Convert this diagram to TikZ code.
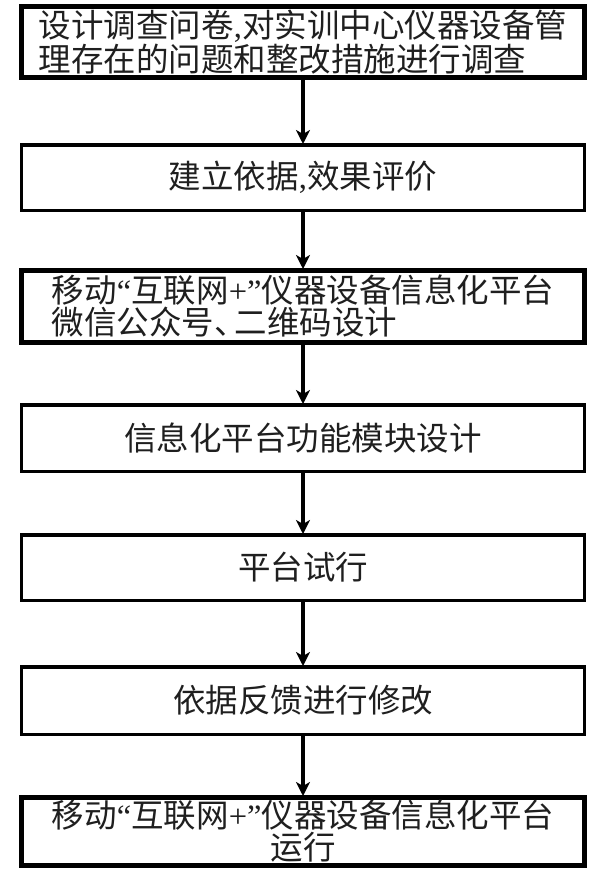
\documentclass[tikz,border=0pt]{standalone}
\usepackage{fontspec}
\setmainfont{Noto Sans CJK SC}
\newfontfamily\latfont{Liberation Serif}
\usetikzlibrary{arrows.meta}
\tikzset{
  stepbox/.style={draw=black, line width=3.5pt, rectangle, inner sep=0pt,
    minimum width=563pt, font=\fontsize{32.5}{32}\selectfont, text=black!88},
  heavybox/.style={stepbox, line width=5pt},
  flowarrow/.style={draw=black, line width=3.5pt,
    -{Stealth[length=14pt,width=14pt,inset=4pt]}, shorten >=-1pt}
}
\newcommand{\myLq}{{\latfont “}}
\newcommand{\myRq}{{\latfont ”}}
\begin{document}
\begin{tikzpicture}[x=1pt,y=-1pt]
\useasboundingbox[fill=white] (0,0) rectangle (609,878);
\node[heavybox, minimum height=71pt, align=left] (b1) at (303,42)
  {设计调查问卷{\latfont ,}对实训中心仪器设备管\\理存在的问题和整改措施进行调查};
\node[stepbox, minimum height=65.5pt] (b2) at (303,177.5)
  {建立依据{\latfont ,}效果评价};
\node[heavybox, minimum height=72pt, align=left] (b3) at (303,306.5)
  {移动\myLq 互联网{\latfont +}\myRq 仪器设备信息化平台\\微信公众号、\kern-12pt 二维码设计};
\node[stepbox, minimum height=66.5pt] (b4) at (303,438)
  {信息化平台功能模块设计};
\node[stepbox, minimum height=65.5pt] (b5) at (303,567.5)
  {平台试行};
\node[stepbox, minimum height=67.5pt] (b6) at (303,700.5)
  {依据反馈进行修改};
\node[heavybox, minimum height=68pt, align=center] (b7) at (303,831.5)
  {移动\myLq 互联网{\latfont +}\myRq 仪器设备信息化平台\\运行};
\draw[flowarrow] (b1) -- (b2);
\draw[flowarrow] (b2) -- (b3);
\draw[flowarrow] (b3) -- (b4);
\draw[flowarrow] (b4) -- (b5);
\draw[flowarrow] (b5) -- (b6);
\draw[flowarrow] (b6) -- (b7);
\end{tikzpicture}
\end{document}
